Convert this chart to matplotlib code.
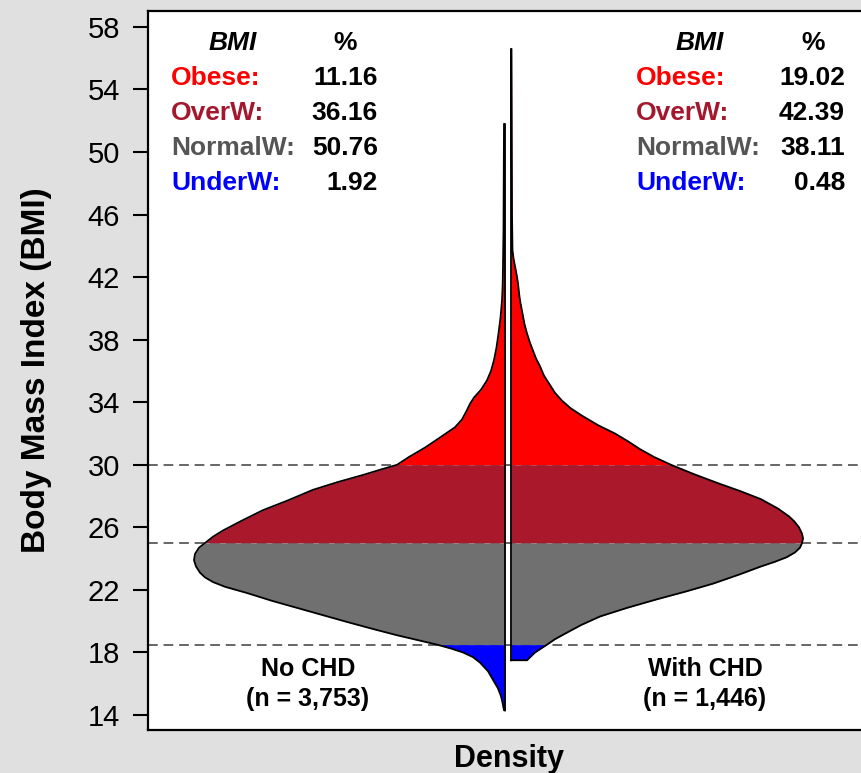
import matplotlib
matplotlib.use("Agg")
import matplotlib.pyplot as plt
import numpy as np

# BMI (y) and half-width of the violin (scaled density)
bmi_no_chd = [14.3, 14.8, 15.2, 15.7, 16.25, 16.8, 17.35, 17.7, 18.0, 18.25,
              18.5, 19.1, 19.5, 19.95, 20.4, 20.85, 21.3, 21.8, 22.2, 22.5,
              22.8, 23.1, 23.5, 23.9, 24.3, 24.7, 25.0, 25.4, 25.8, 26.4,
              27.1, 27.7, 28.4, 28.9, 29.35, 29.7, 30.0, 30.5, 31.1, 31.7,
              32.4, 32.9, 33.5, 33.9, 34.3, 34.8, 35.4, 36.0, 36.7, 37.5,
              38.4, 39.4, 40.5, 41.5, 42.7, 45.0, 51.8]
dens_no_chd = [1, 2.5, 4, 7, 12, 17, 25, 32, 42, 54,
               68, 108, 132, 158, 183, 208, 233, 258, 280, 292,
               300, 305, 309, 311, 310, 306, 300, 292, 282, 264,
               242, 218, 192, 167, 142, 124, 108, 96, 80, 66,
               50, 43, 38, 35, 31, 24, 18, 14, 11, 8.5,
               6.5, 4.5, 3, 2.3, 2, 1.5, 1]

bmi_chd = [17.5, 18.0, 18.5, 18.85, 19.2, 19.75, 20.3, 20.85, 21.4, 21.9,
           22.4, 23.0, 23.5, 23.8, 24.1, 24.4, 24.7, 25.0, 25.3, 25.6,
           26.0, 26.4, 26.7, 27.2, 27.8, 28.3, 28.8, 29.4, 30.0, 30.5,
           31.0, 31.5, 32.0, 32.5, 33.1, 33.6, 34.1, 34.6, 35.2, 35.7,
           36.3, 36.8, 37.3, 37.8, 38.4, 39.0, 39.5, 40.0, 40.5, 41.0,
           41.6, 42.2, 42.7, 43.2, 43.7, 46.0, 56.6]
dens_chd = [16, 24, 36, 44, 54, 70, 89, 116, 146, 175,
            202, 229, 250, 264, 276, 284, 289, 291, 292, 291,
            288, 283, 278, 267, 250, 230, 208, 183, 160, 143,
            129, 117, 104, 88, 72, 60, 51, 44, 38, 33,
            29, 25, 22, 19, 16, 13.5, 12, 10.5, 9, 8,
            7, 5.5, 4, 2.5, 1.5, 1, 0.5]

# BMI category cut-offs and colours
cutoffs = [18.5, 25.0, 30.0]
band_names = ["Obese:", "OverW:", "NormalW:", "UnderW:"]
band_fill = ["#ff0000", "#aa182c", "#707070", "#0000ff"]
band_text = ["#ff0000", "#a3182c", "#555555", "#0000ff"]
pct_no_chd = ["11.16", "36.16", "50.76", "1.92"]
pct_chd = ["19.02", "42.39", "38.11", "0.48"]

group_labels = ["No CHD\n(n = 3,753)", "With CHD\n(n = 1,446)"]

plt.rcParams["font.family"] = ["Liberation Sans", "DejaVu Sans"]

fig = plt.figure(figsize=(8.62, 7.73), dpi=100, facecolor="#e0e0e0")
ax = fig.add_axes([148 / 862, 43 / 773, 722 / 862, 719 / 773])
ax.set_facecolor("white")

# band limits: (lo, hi) for obese, overweight, normal, underweight
lims = [(cutoffs[2], 99), (cutoffs[1], cutoffs[2]), (cutoffs[0], cutoffs[1]), (0, cutoffs[0])]


def half_violin(y, w, base, side):
    y = np.asarray(y, float)
    w = np.asarray(w, float)
    edge = base + side * w
    for (lo, hi), col in zip(lims, band_fill):
        m = (y >= lo) & (y <= hi)
        ax.fill_betweenx(y, base, edge, where=m, color=col, lw=0, zorder=2)
    xs = np.concatenate([[base], edge, [base], [base]])
    ys = np.concatenate([[y[0]], y, [y[-1]], [y[0]]])
    ax.plot(xs, ys, color="black", lw=1.3, zorder=3, solid_joinstyle="round")


half_violin(bmi_no_chd, dens_no_chd, -3, -1)
half_violin(bmi_chd, dens_chd, 3, 1)

for c in cutoffs:
    ax.axhline(c, color="#666666", lw=1.4, ls=(0, (5, 3)), zorder=1)

ax.set_xlim(-360, 362)
ax.set_ylim(13.04, 59.02)
ax.set_yticks(np.arange(14, 59, 4))
ax.set_xticks([])
ax.tick_params(axis="y", length=11, width=1.5, pad=9, labelsize=21)
for s in ax.spines.values():
    s.set_linewidth(1.6)
ax.set_ylabel("Body Mass Index (BMI)", fontsize=24, fontweight="bold", labelpad=26)
ax.set_xlabel("Density", fontsize=22, fontweight="bold", labelpad=10)


def px(x, y):
    # figure pixel position -> figure fraction
    return x / 862, 1 - y / 773


def table(label_x, value_x, head_x, pct_x, values):
    fig.text(*px(head_x, 43), "BMI", fontsize=19, fontweight="bold",
             style="italic", ha="center", va="center")
    fig.text(*px(pct_x, 43), "%", fontsize=19, fontweight="bold",
             ha="center", va="center")
    for i, (name, col, v) in enumerate(zip(band_names, band_text, values)):
        yy = 78 + i * 35
        fig.text(*px(label_x, yy), name, color=col, fontsize=19,
                 fontweight="bold", ha="left", va="center")
        fig.text(*px(value_x, yy), v, fontsize=19, fontweight="bold",
                 ha="right", va="center")


table(171, 378, 233, 345, pct_no_chd)
table(636, 845, 700, 813, pct_chd)

fig.text(*px(308, 684), group_labels[0], fontsize=18, fontweight="bold",
         ha="center", va="center", linespacing=1.3)
fig.text(*px(705, 684), group_labels[1], fontsize=18, fontweight="bold",
         ha="center", va="center", linespacing=1.3)

fig.savefig("out.png", dpi=100, facecolor=fig.get_facecolor())
